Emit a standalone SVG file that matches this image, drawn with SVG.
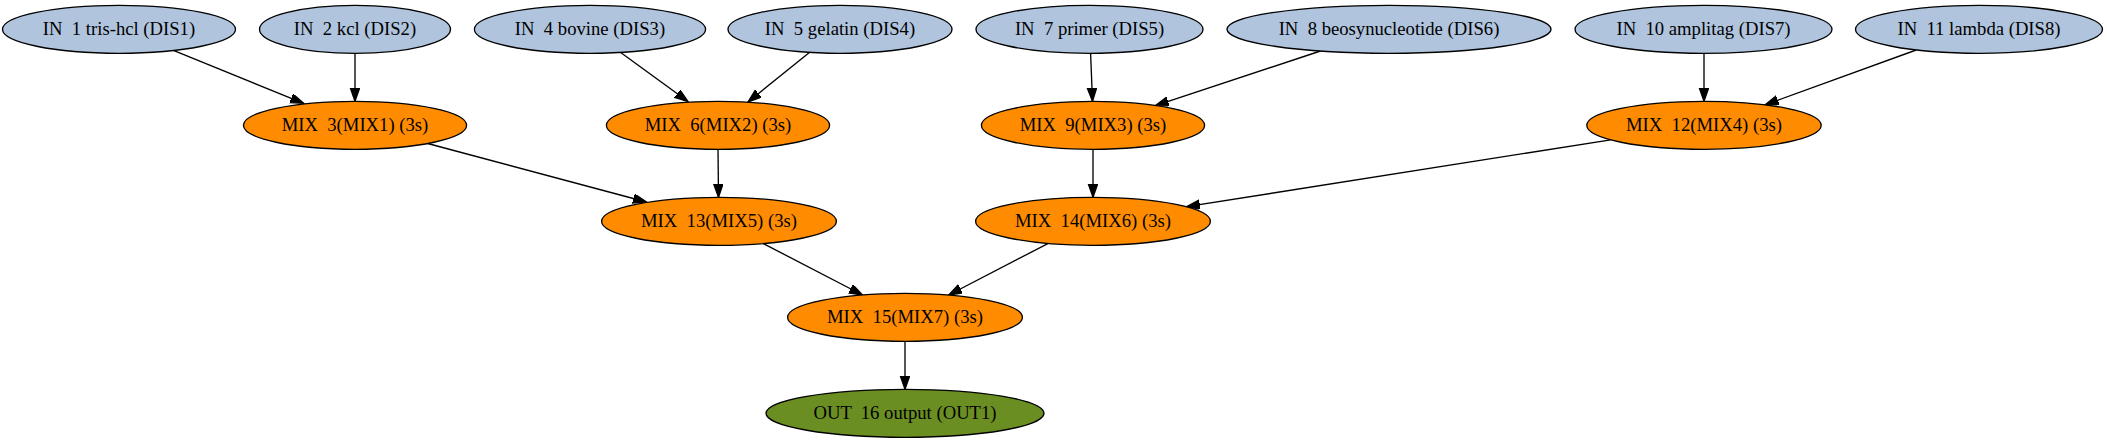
<svg xmlns="http://www.w3.org/2000/svg" width="2107" height="443" viewBox="0 0 2107 443">
<style>
  .n ellipse { stroke: #000; stroke-width: 1.33; }
  .in ellipse { fill: #b0c4de; }
  .mix ellipse { fill: #ff8c00; }
  .out ellipse { fill: #6b8e23; }
  .n text { font-family: "Liberation Serif", "Times New Roman", serif; font-size: 18.67px; fill: #000; text-anchor: middle; white-space: pre; }
  #edges line { stroke: #000; stroke-width: 1.33; fill: none; marker-end: url(#arr); }
</style>
<defs>
  <marker id="arr" markerUnits="userSpaceOnUse" markerWidth="16" markerHeight="12" refX="13.33" refY="4.67" orient="auto">
    <path d="M0,0 L13.33,4.67 L0,9.33 Z" fill="#000" stroke="#000" stroke-width="1.33"/>
  </marker>
</defs>
<rect x="0" y="0" width="2107" height="443" fill="#fff"/>
<g id="edges">
  <line x1="174" y1="50.7" x2="303.6" y2="103.3"/>
  <line x1="355" y1="53.3" x2="355" y2="101.3"/>
  <line x1="620" y1="52" x2="688" y2="101.5"/>
  <line x1="809.4" y1="52.4" x2="748" y2="102"/>
  <line x1="1090.6" y1="53.3" x2="1092.5" y2="101.3"/>
  <line x1="1320.5" y1="51" x2="1155.4" y2="105.6"/>
  <line x1="1704" y1="53.3" x2="1704" y2="101.3"/>
  <line x1="1916.2" y1="50" x2="1765.2" y2="104.8"/>
  <line x1="427.7" y1="143.5" x2="646.4" y2="202"/>
  <line x1="718" y1="149.3" x2="718.5" y2="197.3"/>
  <line x1="1093" y1="149.3" x2="1093" y2="197.3"/>
  <line x1="1610.7" y1="139.8" x2="1186.6" y2="206.7"/>
  <line x1="763.4" y1="243.6" x2="862.5" y2="295"/>
  <line x1="1047.8" y1="243.6" x2="948.7" y2="295"/>
  <line x1="905" y1="341.3" x2="905" y2="389.3"/>
</g>
<g id="in1" class="n in"><ellipse cx="119" cy="29.3" rx="116.5" ry="24"/><text x="119" y="35.3" xml:space="preserve">IN  1 tris-hcl (DIS1)</text></g>
<g id="in2" class="n in"><ellipse cx="355" cy="29.3" rx="95.5" ry="24"/><text x="355" y="35.3" xml:space="preserve">IN  2 kcl (DIS2)</text></g>
<g id="in4" class="n in"><ellipse cx="590" cy="29.3" rx="115.6" ry="24"/><text x="590" y="35.3" xml:space="preserve">IN  4 bovine (DIS3)</text></g>
<g id="in5" class="n in"><ellipse cx="840" cy="29.3" rx="112" ry="24"/><text x="840" y="35.3" xml:space="preserve">IN  5 gelatin (DIS4)</text></g>
<g id="in7" class="n in"><ellipse cx="1089.5" cy="29.3" rx="113.5" ry="24"/><text x="1089.5" y="35.3" xml:space="preserve">IN  7 primer (DIS5)</text></g>
<g id="in8" class="n in"><ellipse cx="1389" cy="29.3" rx="162" ry="24"/><text x="1389" y="35.3" xml:space="preserve">IN  8 beosynucleotide (DIS6)</text></g>
<g id="in10" class="n in"><ellipse cx="1703.5" cy="29.3" rx="128.5" ry="24"/><text x="1703.5" y="35.3" xml:space="preserve">IN  10 amplitag (DIS7)</text></g>
<g id="in11" class="n in"><ellipse cx="1979" cy="29.3" rx="123.5" ry="24"/><text x="1979" y="35.3" xml:space="preserve">IN  11 lambda (DIS8)</text></g>
<g id="mix3" class="n mix"><ellipse cx="355" cy="125.3" rx="111.6" ry="24"/><text x="355" y="131.3" xml:space="preserve">MIX  3(MIX1) (3s)</text></g>
<g id="mix6" class="n mix"><ellipse cx="718" cy="125.3" rx="111.6" ry="24"/><text x="718" y="131.3" xml:space="preserve">MIX  6(MIX2) (3s)</text></g>
<g id="mix9" class="n mix"><ellipse cx="1093" cy="125.3" rx="111.6" ry="24"/><text x="1093" y="131.3" xml:space="preserve">MIX  9(MIX3) (3s)</text></g>
<g id="mix12" class="n mix"><ellipse cx="1704" cy="125.3" rx="117.2" ry="24"/><text x="1704" y="131.3" xml:space="preserve">MIX  12(MIX4) (3s)</text></g>
<g id="mix13" class="n mix"><ellipse cx="719" cy="221.3" rx="117.4" ry="24"/><text x="719" y="227.3" xml:space="preserve">MIX  13(MIX5) (3s)</text></g>
<g id="mix14" class="n mix"><ellipse cx="1093" cy="221.3" rx="117.4" ry="24"/><text x="1093" y="227.3" xml:space="preserve">MIX  14(MIX6) (3s)</text></g>
<g id="mix15" class="n mix"><ellipse cx="905" cy="317.3" rx="117.4" ry="24"/><text x="905" y="323.3" xml:space="preserve">MIX  15(MIX7) (3s)</text></g>
<g id="out16" class="n out"><ellipse cx="905" cy="413.3" rx="139" ry="24"/><text x="905" y="419.3" xml:space="preserve">OUT  16 output (OUT1)</text></g>
</svg>
